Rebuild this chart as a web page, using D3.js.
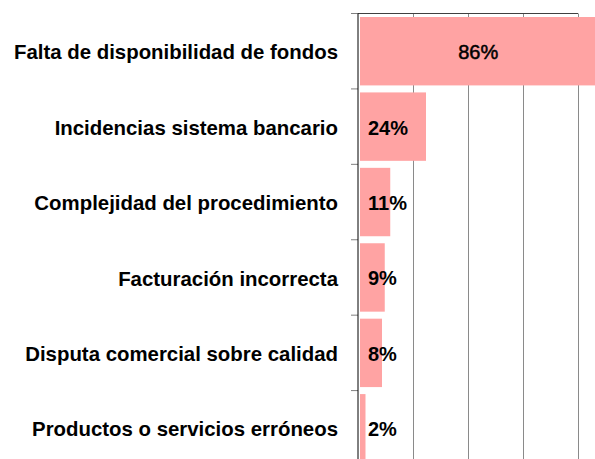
<!DOCTYPE html>
<html>
<head>
<meta charset="utf-8">
<script src="https://cdn.jsdelivr.net/npm/d3@7"></script>
<style>
  body { margin: 0; background: #fff; }
  svg { display: block; font-family: "Liberation Sans", Arial, sans-serif; }
</style>
</head>
<body>
<div id="chart"></div>
<script>
// categories and values (percent)
var categories = [
  "Falta de disponibilidad de fondos",
  "Incidencias sistema bancario",
  "Complejidad del procedimiento",
  "Facturación incorrecta",
  "Disputa comercial sobre calidad",
  "Productos o servicios erróneos"
];
var values = [86, 24, 11, 9, 8, 2];
var valueLabels = ["86%", "24%", "11%", "9%", "8%", "2%"];
var gridValues = [20, 40, 60, 80];

var width = 595, height = 459;
var margin = {top: 13.5, left: 358, right: 17};
var plotBottom = 466;  // plot runs past the bottom edge of the picture

var svg = d3.select("#chart").append("svg")
    .attr("width", width)
    .attr("height", height);

// scales
var x = d3.scaleLinear().domain([0, 80]).range([margin.left, width - margin.right]);
var y = d3.scaleBand()
    .domain(categories)
    .range([margin.top, plotBottom])
    .paddingInner(0.093)
    .paddingOuter(0.0465);

// vertical gridlines
svg.append("g")
    .attr("transform", "translate(0," + margin.top + ")")
    .call(d3.axisTop(x).tickValues(gridValues).tickSize(-(plotBottom - margin.top)).tickFormat(""))
    .call(function(g) { g.select(".domain").remove(); })
    .selectAll("line")
    .attr("stroke", "#8a8a8a");

// top border of plot
svg.append("line")
    .attr("x1", x(0)).attr("x2", x(80))
    .attr("y1", margin.top).attr("y2", margin.top)
    .attr("stroke", "#404040");

// bars (drawn a little off the axis, as in the original)
var x0 = x(0) + 2;
function barW(d) { return x(d) - x(0); }

svg.append("g").selectAll("rect")
    .data(values)
    .join("rect")
    .attr("x", x0)
    .attr("y", function(d, i) { return y(categories[i]); })
    .attr("width", barW)
    .attr("height", y.bandwidth())
    .attr("fill", "#ffa3a3");

// category axis: labels
svg.append("g")
    .attr("transform", "translate(" + x(0) + ",0)")
    .call(d3.axisLeft(y).tickSize(0).tickPadding(20))
    .call(function(g) { g.select(".domain").remove(); })
    .selectAll("text")
    .attr("dy", "0.4em")
    .attr("fill", "#000")
    .style("font-family", "'Liberation Sans', Arial, sans-serif")
    .style("font-size", "20.4px")
    .style("font-weight", "bold");

// tick marks between categories
var step = y.step();
var bounds = categories.map(function(c) { return y(c) - step * y.paddingInner() / 2; });
svg.append("g").selectAll("line")
    .data(bounds)
    .join("line")
    .attr("x1", x(0) - 7).attr("x2", x(0))
    .attr("y1", function(d) { return d; }).attr("y2", function(d) { return d; })
    .attr("stroke", "#808080");

// axis line
svg.append("line")
    .attr("x1", x(0)).attr("x2", x(0))
    .attr("y1", margin.top).attr("y2", plotBottom)
    .attr("stroke", "#000");

// value labels: centred in wide bars, just right of the axis otherwise
function wide(d) { return barW(d) > 100; }
svg.append("g").selectAll("text")
    .data(values)
    .join("text")
    .attr("x", function(d) { return wide(d) ? x0 + barW(d) / 2 : x0 + 8; })
    .attr("y", function(d, i) { return y(categories[i]) + y.bandwidth() / 2; })
    .attr("dy", "0.4em")
    .attr("text-anchor", function(d) { return wide(d) ? "middle" : "start"; })
    .style("font-size", "20px")
    .style("font-weight", function(d) { return wide(d) ? "normal" : "bold"; })
    .attr("stroke", function(d) { return wide(d) ? "#000" : "none"; })
    .attr("stroke-width", 0.5)
    .attr("fill", "#000")
    .text(function(d, i) { return valueLabels[i]; });
</script>
</body>
</html>
